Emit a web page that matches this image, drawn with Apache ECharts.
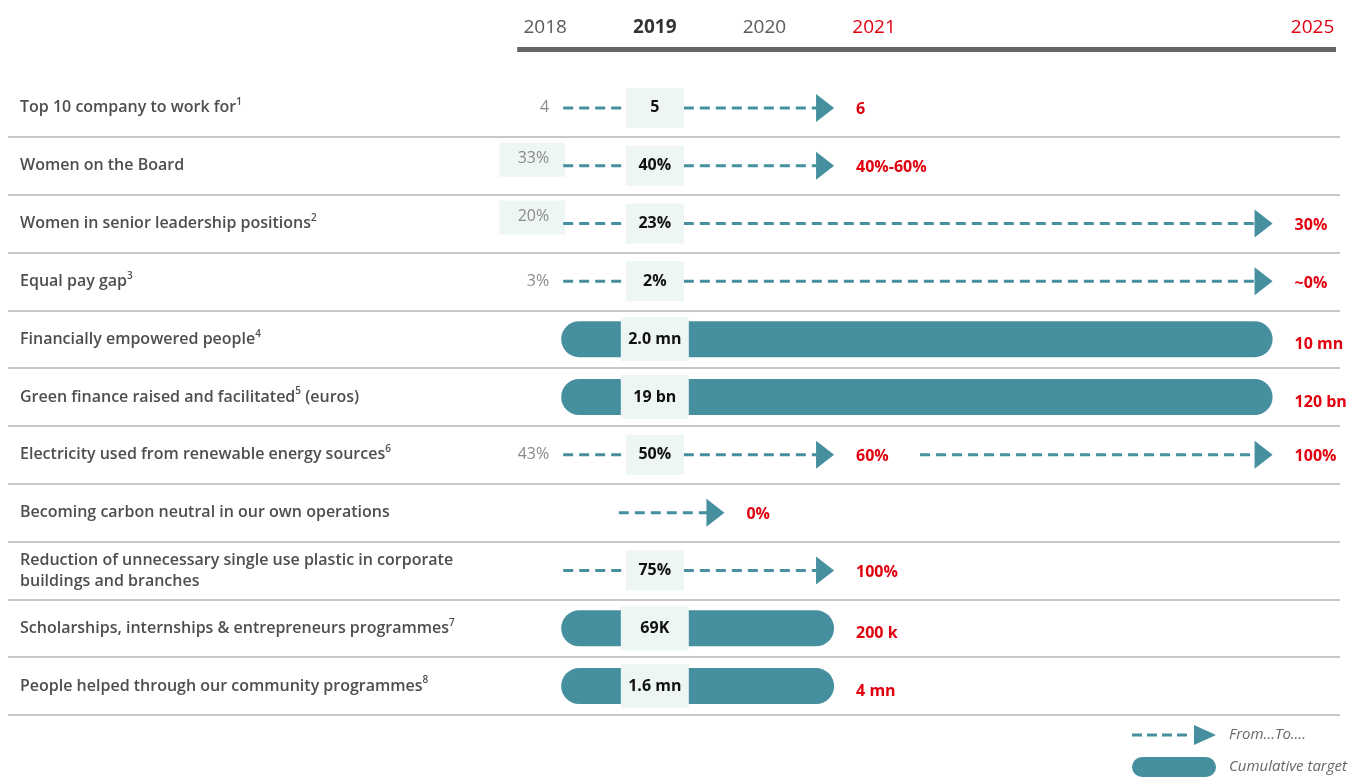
<!DOCTYPE html>
<html>
<head>
<meta charset="utf-8">
<script src="https://cdn.jsdelivr.net/npm/echarts@6/dist/echarts.min.js"></script>
<style>
  html, body { margin: 0; padding: 0; background: #ffffff; }
  #chart { width: 1362px; height: 782px; }
</style>
</head>
<body>
<div id="chart"></div>
<script>
// Indicator rows, top to bottom ({s|n} marks a footnote number)
const rowLabels = [
  'Top 10 company to work for{s|1}',
  'Women on the Board',
  'Women in senior leadership positions{s|2}',
  'Equal pay gap{s|3}',
  'Financially empowered people{s|4}',
  'Green finance raised and facilitated{s|5} (euros)',
  'Electricity used from renewable energy sources{s|6}',
  'Becoming carbon neutral in our own operations',
  'Reduction of unnecessary single use plastic in corporate\nbuildings and branches',
  'Scholarships, internships & entrepreneurs programmes{s|7}',
  'People helped through our community programmes{s|8}'
];
// 'arrow' = from…to commitment, 'bar' = cumulative target
const rowKinds = ['arrow', 'arrow', 'arrow', 'arrow', 'bar', 'bar', 'arrow', 'arrow', 'arrow', 'bar', 'bar'];
// 2018 starting values
const fromValues = ['4', '33%', '20%', '3%', null, null, '43%', null, null, null, null];
const fromHighlighted = [false, true, true, false, false, false, false, false, false, false, false];
// 2019 achieved values
const currentValues = ['5', '40%', '23%', '2%', '2.0 mn', '19 bn', '50%', null, '75%', '69K', '1.6 mn'];
// year each commitment line starts from
const startYears = [2018, 2018, 2018, 2018, 2018, 2018, 2018, 2019, 2018, 2018, 2018];
// target years and target values (one row carries two milestones)
const targetYears = [[2021], [2021], [2025], [2025], [2025], [2025], [2021, 2025], [2020], [2021], [2021], [2021]];
const targetValues = [['6'], ['40%-60%'], ['30%'], ['~0%'], ['10 mn'], ['120 bn'], ['60%', '100%'], ['0%'], ['100%'], ['200 k'], ['4 mn']];
// column headings
const headerYears = [2018, 2019, 2020, 2021, 2025];
const baseYear = 2018;
const currentYear = 2019;

const TEAL = '#468f9e';
const RED = '#e2000f';
const PALE = '#eef6f5';
const FONT = '"Open Sans", "Noto Sans", sans-serif';
const headerStyle = {
  2018: { fill: '#5a5a5a', fontWeight: 'normal' },
  2019: { fill: '#333333', fontWeight: 'bold' },
  2020: { fill: '#5a5a5a', fontWeight: 'normal' },
  2021: { fill: RED, fontWeight: 'normal' },
  2025: { fill: RED, fontWeight: 'normal' }
};

const chart = echarts.init(document.getElementById('chart'), null, { renderer: 'canvas' });

function text(x, y, str, extra) {
  return {
    type: 'text',
    style: Object.assign({
      x: x, y: y, text: str, fontFamily: FONT, fontSize: 16,
      verticalAlign: 'middle', align: 'center'
    }, extra)
  };
}

function currentBox(cx, cy, str, w, h) {
  return [
    { type: 'rect', shape: { x: cx - w / 2, y: cy - h / 2, width: w, height: h }, style: { fill: PALE } },
    text(cx, cy, str, { fill: '#111111', fontWeight: 'bold' })
  ];
}

function renderArrow(params, api) {
  const i = api.value(1);
  const xs = function (yr) { return api.coord([yr, i])[0]; };
  const cy = api.coord([currentYear, i])[1];
  const cx = xs(currentYear);
  const children = [];
  const dash = function (x1, x2) {
    return { type: 'line', shape: { x1: x1, y1: cy, x2: x2, y2: cy },
             style: { stroke: TEAL, lineWidth: 3, lineDash: [10, 6] } };
  };
  const head = function (tip) {
    return { type: 'polygon', shape: { points: [[tip - 18, cy - 14], [tip, cy], [tip - 18, cy + 14]] },
             style: { fill: TEAL } };
  };
  if (fromValues[i] != null) {
    const fx = xs(baseYear) + 4;
    if (fromHighlighted[i]) {
      children.push({ type: 'rect', shape: { x: fx - 50, y: cy - 23, width: 66, height: 34 }, style: { fill: PALE } });
      children.push(text(fx, cy - 7, fromValues[i], { fill: '#8a8a8a', align: 'right' }));
    } else {
      children.push(text(fx, cy, fromValues[i], { fill: '#8a8a8a', align: 'right' }));
    }
  }
  const hasCurrent = currentValues[i] != null;
  let x0 = startYears[i] === baseYear ? xs(startYears[i]) + 18 : xs(startYears[i]) - 36;
  targetYears[i].forEach(function (ty, k) {
    const tip = xs(ty) - 40;
    if (k === 0 && hasCurrent) {
      children.push(dash(x0, cx - 29));
      children.push(dash(cx + 29, tip - 16));
    } else {
      children.push(dash(x0, tip - 16));
    }
    children.push(head(tip));
    children.push(text(xs(ty) - 18, cy + 2, targetValues[i][k], { fill: RED, fontWeight: 'bold', align: 'left' }));
    x0 = xs(ty) + 46;
  });
  if (hasCurrent) {
    currentBox(cx, cy, currentValues[i], 58, 40).forEach(function (c) { children.push(c); });
  }
  return { type: 'group', children: children };
}

function renderBar(params, api) {
  const i = api.value(1);
  const xs = function (yr) { return api.coord([yr, i])[0]; };
  const cy = api.coord([currentYear, i])[1];
  const cx = xs(currentYear);
  const ty = targetYears[i][0];
  const x0 = xs(startYears[i]) + 16;
  const tip = xs(ty) - 40;
  const children = [
    { type: 'rect', shape: { x: x0, y: cy - 18, width: tip - x0, height: 36, r: 18 }, style: { fill: TEAL } }
  ];
  currentBox(cx, cy, currentValues[i], 68, 44).forEach(function (c) { children.push(c); });
  children.push(text(xs(ty) - 18, cy + 5, targetValues[i][0], { fill: RED, fontWeight: 'bold', align: 'left' }));
  return { type: 'group', children: children };
}

function renderHeader(params, api) {
  const yr = api.value(0);
  const p = api.coord([yr, 0]);
  const gridTop = p[1] - api.size([0, 1])[1] / 2;
  const st = headerStyle[yr];
  const children = [
    text(p[0], gridTop - 51, String(yr), { fill: st.fill, fontWeight: st.fontWeight, fontSize: 19 })
  ];
  if (params.dataIndex === 0) {
    const right = params.coordSys.x + params.coordSys.width - 4;
    children.push({ type: 'rect', shape: { x: p[0] - 28, y: gridTop - 32, width: right - (p[0] - 28), height: 5 },
                    style: { fill: '#666666' } });
  }
  return { type: 'group', children: children };
}

const arrowData = [];
const barData = [];
rowKinds.forEach(function (k, i) {
  (k === 'arrow' ? arrowData : barData).push([startYears[i], i]);
});

const DASH_ICON = 'path://M0,8.5h10v3H0z M15,8.5h10v3H15z M30,8.5h10v3H30z M45,8.5h10v3H45z M62,0 L84,10 L62,20 Z';
const PILL_ICON = 'path://M10,0 H74 A10,10 0 0 1 74,20 H10 A10,10 0 0 1 10,0 Z';

chart.setOption({
  animation: false,
  grid: { left: 8, right: 22, top: 79, bottom: 67 },
  xAxis: { type: 'value', min: 2013.1, max: 2025.25, show: false },
  yAxis: {
    type: 'category',
    data: rowLabels,
    inverse: true,
    axisLine: { show: false },
    axisTick: { show: false },
    axisLabel: {
      inside: true, margin: 12, align: 'left', interval: 0,
      fontFamily: FONT, fontSize: 16, fontWeight: 600, color: '#4e4e4e', lineHeight: 21,
      rich: {
        s: { fontFamily: FONT, fontSize: 10, fontWeight: 600, color: '#4e4e4e', verticalAlign: 'top', lineHeight: 14 }
      }
    },
    splitLine: { show: true, showMinLine: false, interval: 0, lineStyle: { color: '#c8c8c8', width: 2 } }
  },
  legend: {
    orient: 'vertical', right: 10, bottom: 0, itemWidth: 84, itemHeight: 20, itemGap: 12,
    selectedMode: false,
    data: [
      { name: 'From...To....', icon: DASH_ICON },
      { name: 'Cumulative target', icon: PILL_ICON }
    ],
    textStyle: { fontFamily: FONT, fontStyle: 'italic', fontSize: 15, color: '#666666', padding: [0, 0, 0, 8] }
  },
  series: [
    { type: 'custom', name: 'header', data: headerYears.map(function (y) { return [y, 0]; }),
      renderItem: renderHeader, silent: true },
    { type: 'custom', name: 'From...To....', itemStyle: { color: TEAL }, data: arrowData,
      renderItem: renderArrow, silent: true },
    { type: 'custom', name: 'Cumulative target', itemStyle: { color: TEAL }, data: barData,
      renderItem: renderBar, silent: true }
  ]
});
</script>
</body>
</html>
